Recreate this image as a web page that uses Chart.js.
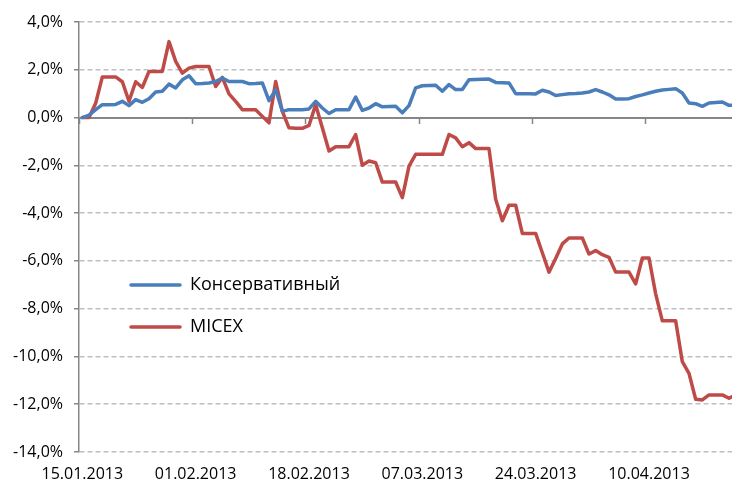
<!DOCTYPE html>
<html>
<head>
<meta charset="utf-8">
<script src="https://cdn.jsdelivr.net/npm/chart.js@4.4.1/dist/chart.umd.min.js"></script>
<style>
    html, body { margin: 0; padding: 0; background: #fff; overflow: hidden; }
    #wrap { width: 740px; height: 487px; }
</style>
</head>
<body>
<div id="wrap"><canvas id="chart" width="740" height="487"></canvas></div>
<script>
// daily series, weekends carry the Friday value
const firstDay = new Date(2013, 0, 15);
const dayCount = 99;
const tickLabels = ['15.01.2013', '01.02.2013', '18.02.2013', '07.03.2013', '24.03.2013', '10.04.2013'];
const seriesNames = ['Консервативный', 'MICEX'];

const conservative = [
    0, 0.1, 0.33, 0.54, 0.54, 0.55, 0.68, 0.5, 0.75, 0.64,
    0.79, 1.07, 1.1, 1.4, 1.24, 1.58, 1.75, 1.42, 1.43, 1.45,
    1.51, 1.65, 1.51, 1.51, 1.51, 1.42, 1.43, 1.45, 0.71, 1.17,
    0.26, 0.33, 0.33, 0.33, 0.36, 0.68, 0.4, 0.17, 0.33, 0.33,
    0.33, 0.86, 0.3, 0.4, 0.58, 0.45, 0.46, 0.47, 0.2, 0.5,
    1.24, 1.33, 1.34, 1.35, 1.1, 1.38, 1.17, 1.17, 1.58, 1.59,
    1.6, 1.61, 1.47, 1.46, 1.45, 1.0, 1.0, 1.0, 0.99, 1.14,
    1.07, 0.92, 0.96, 1.0, 1.01, 1.03, 1.07, 1.17, 1.07, 0.95,
    0.78, 0.78, 0.79, 0.88, 0.95, 1.03, 1.1, 1.15, 1.18, 1.21,
    1.03, 0.61, 0.58, 0.47, 0.61, 0.63, 0.65, 0.51, 0.51
];
const micex = [
    0, 0, 0.6, 1.7, 1.7, 1.7, 1.5, 0.68, 1.5, 1.26,
    1.93, 1.93, 1.93, 3.18, 2.35, 1.86, 2.07, 2.14, 2.14, 2.14,
    1.3, 1.68, 0.99, 0.68, 0.33, 0.33, 0.33, 0.05, -0.22, 1.51,
    0.26, -0.43, -0.45, -0.45, -0.33, 0.54, -0.43, -1.4, -1.22, -1.22,
    -1.22, -0.71, -2.0, -1.82, -1.89, -2.7, -2.7, -2.7, -3.35, -2.03,
    -1.54, -1.54, -1.54, -1.54, -1.54, -0.71, -0.85, -1.22, -1.05, -1.3,
    -1.3, -1.3, -3.42, -4.32, -3.67, -3.67, -4.85, -4.85, -4.85, -5.66,
    -6.47, -5.9, -5.29, -5.04, -5.04, -5.04, -5.71, -5.57, -5.74, -5.85,
    -6.47, -6.47, -6.47, -6.96, -5.88, -5.88, -7.38, -8.51, -8.51, -8.51,
    -10.22, -10.71, -11.79, -11.82, -11.61, -11.61, -11.61, -11.75, -11.6
];

const pad = n => String(n).padStart(2, '0');
const dates = [];
for (let i = 0; i < dayCount; i++) {
    const d = new Date(firstDay.getFullYear(), firstDay.getMonth(), firstDay.getDate() + i);
    dates.push(pad(d.getDate()) + '.' + pad(d.getMonth() + 1) + '.' + d.getFullYear());
}

const axisGray = '#868686';
const gridGray = '#BFBFBF';
const font = { family: "'Open Sans', sans-serif", size: 16 };
const legendFont = "18px 'Open Sans', sans-serif";

// legend drawn inside the plot, like the Excel original
const insideLegend = {
    id: 'insideLegend',
    afterDatasetsDraw(chart) {
        const { ctx, chartArea } = chart;
        ctx.save();
        chart.data.datasets.forEach((ds, i) => {
            const x = chartArea.left + 52;
            const y = chartArea.top + 263 + i * 42;
            ctx.strokeStyle = ds.borderColor;
            ctx.lineWidth = ds.borderWidth;
            ctx.lineCap = 'round';
            ctx.beginPath();
            ctx.moveTo(x, y);
            ctx.lineTo(x + 49, y);
            ctx.stroke();
            ctx.fillStyle = '#000';
            ctx.font = legendFont;
            ctx.textBaseline = 'middle';
            ctx.fillText(ds.label, x + 59, y);
        });
        ctx.restore();
    }
};

const lineStyle = { borderWidth: 3.5, pointRadius: 0, tension: 0, fill: false,
    borderCapStyle: 'round', borderJoinStyle: 'round', xAxisID: 'x', yAxisID: 'y' };

new Chart(document.getElementById('chart').getContext('2d'), {
    type: 'line',
    data: {
        labels: dates,
        datasets: [
            { ...lineStyle, label: seriesNames[0], data: conservative, borderColor: '#4A7EBB' },
            { ...lineStyle, label: seriesNames[1], data: micex, borderColor: '#BE4B48' }
        ]
    },
    options: {
        responsive: false,
        animation: false,
        layout: { padding: { top: 22, right: 1, bottom: 0, left: 0 } },
        plugins: { legend: { display: false }, tooltip: { enabled: false } },
        scales: {
            x: {
                type: 'category',
                position: { y: 0 },
                offset: true,
                grid: {
                    offset: true, drawOnChartArea: false, drawTicks: true, tickLength: 5, tickWidth: 1.5,
                    tickColor: c => tickLabels.includes(dates[c.index]) ? axisGray : 'rgba(0,0,0,0)'
                },
                border: { color: axisGray, width: 2 },
                ticks: { display: false, autoSkip: false }
            },
            xLabels: {
                axis: 'x',
                type: 'category',
                labels: dates,
                position: 'bottom',
                offset: true,
                grid: { display: false, drawTicks: false },
                border: { display: false },
                ticks: {
                    autoSkip: false, maxRotation: 0, padding: 13, color: '#000', font,
                    callback: v => tickLabels.includes(dates[v]) ? dates[v] : null
                },
                afterFit: s => { s.height = 35; }
            },
            y: {
                min: -14, max: 4,
                ticks: {
                    stepSize: 2, padding: 11, color: '#000', font,
                    callback: v => v.toFixed(1).replace('.', ',') + '%'
                },
                grid: {
                    color: c => (c.tick && c.tick.value === 0) ? 'rgba(0,0,0,0)' : gridGray,
                    lineWidth: 1.5, tickLength: 5, tickColor: axisGray, tickWidth: 1.5
                },
                border: { color: axisGray, width: 1.5, dash: [5, 3] },
                afterFit: s => { s.width = 79; }
            }
        }
    },
    plugins: [insideLegend]
});
</script>
</body>
</html>
